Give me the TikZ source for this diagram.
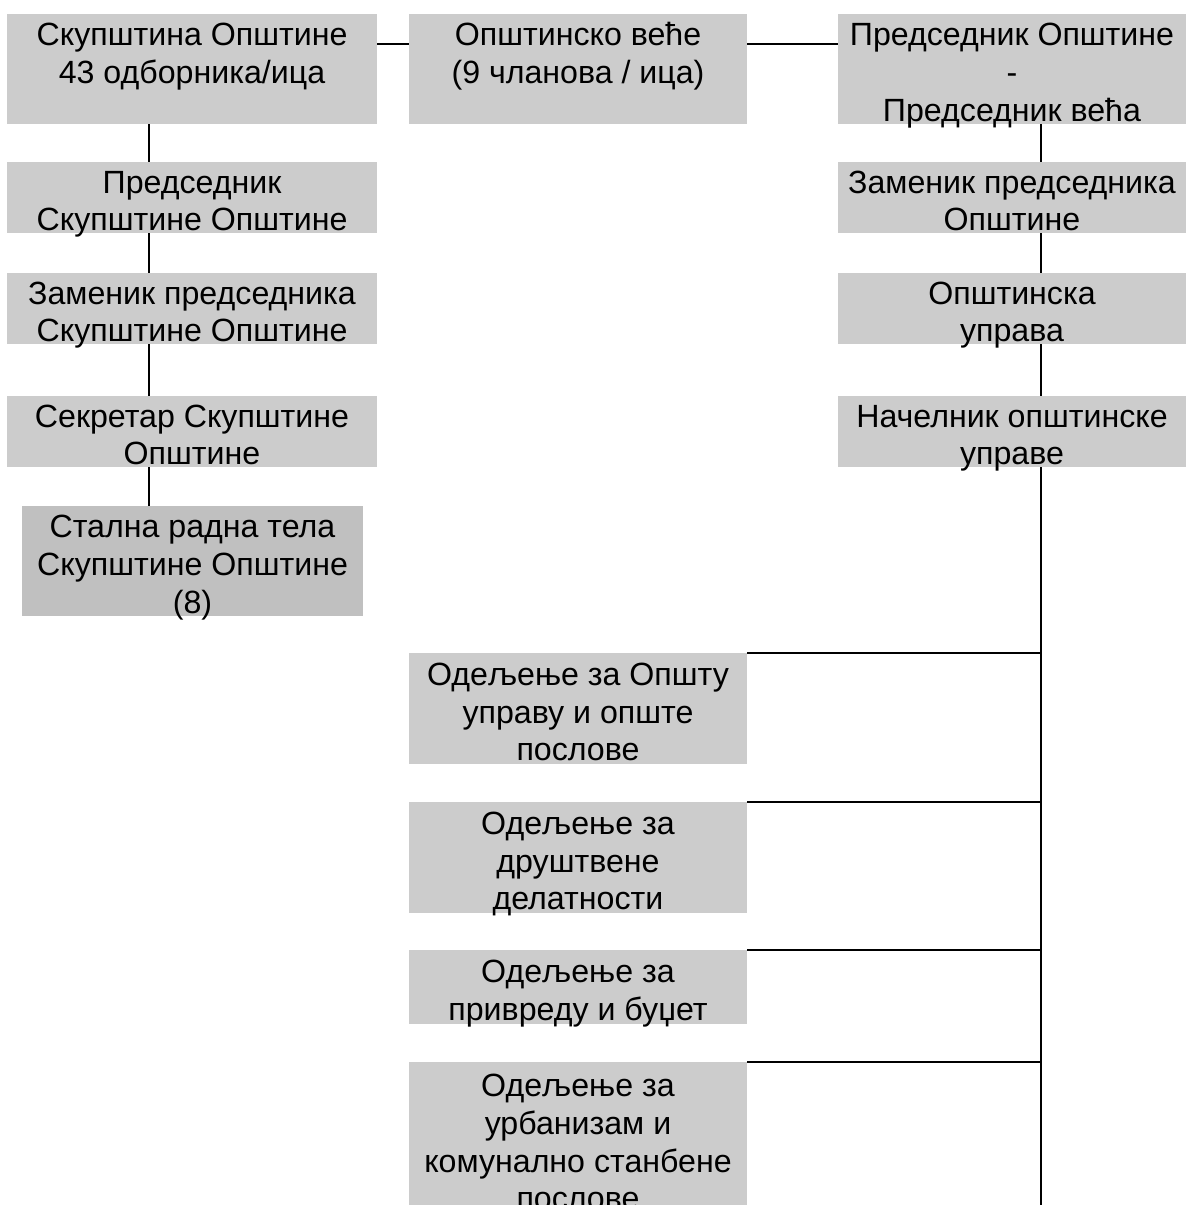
\documentclass[tikz,border=0pt]{standalone}
\usepackage{fontspec}
\setmainfont{Liberation Sans}
\usepackage{xcolor}
\usetikzlibrary{positioning, calc}
\definecolor{boxgray}{HTML}{CCCCCC}
\definecolor{bodygray}{HTML}{C0C0C0}
\newsavebox{\orgtextbox}
\newcommand{\orgtext}[1]{%
  \sbox\orgtextbox{\begin{tabular}[t]{@{}c@{}}#1\end{tabular}}%
  \raisebox{\dimexpr0.5\dp\orgtextbox-11.5pt\relax}[0pt][0pt]{\usebox\orgtextbox}}

\begin{document}
\begin{tikzpicture}[
  x=0.02cm, y=-0.02cm,
  orgbox/.style={fill=boxgray, inner sep=0pt, font=\fontsize{18.3pt}{21.6pt}\selectfont},
  leftbox/.style={orgbox, minimum width=7.4cm},
  midbox/.style={orgbox, minimum width=6.76cm},
  rightbox/.style={orgbox, minimum width=6.96cm},
  bodybox/.style={orgbox, fill=bodygray, minimum width=6.82cm, minimum height=2.2cm},
  link/.style={black, line width=1.14pt},
]
  \useasboundingbox (0,0) rectangle (1186,1205);
  \clip (0,0) rectangle (1186,1205);

  % Spines and the top connector level
  \coordinate (lspine) at (149,0);
  \coordinate (rspine) at (1041,0);
  \coordinate (topline) at (0,44);
  \coordinate (rbottom) at (1041,1205);

  % Top row: assembly, council, president
  \node[leftbox, minimum height=2.2cm] (skup) at (192,69) {\orgtext{Скупштина Општине\\43 одборника/ица\\\mbox{}}};
  \node[midbox, minimum height=2.2cm] (vece) at (578,69) {\orgtext{Општинско веће\\(9 чланова / ица)\\\mbox{}}};
  \node[rightbox, minimum height=2.2cm] (predop) at (1012,69) {\orgtext{Председник Општине\\-\\Председник већа}};

  % Left column: assembly offices
  \node[leftbox, minimum height=1.42cm] (predsk) at (192,197.5) {\orgtext{Председник\\Скупштине Општине}};
  \node[leftbox, minimum height=1.42cm] (zamsk) at (192,308.5) {\orgtext{Заменик председника\\Скупштине Општине}};
  \node[leftbox, minimum height=1.42cm] (sekr) at (192,431.5) {\orgtext{Секретар Скупштине\\Општине}};
  \node[bodybox] (stalna) at (192.5,561) {\orgtext{Стална радна тела\\Скупштине Општине\\(8)}};

  % Right column: executive
  \node[rightbox, minimum height=1.42cm] (zamop) at (1012,197.5) {\orgtext{Заменик председника\\Општине}};
  \node[rightbox, minimum height=1.42cm] (uprava) at (1012,308.5) {\orgtext{Општинска\\управа}};
  \node[rightbox, minimum height=1.42cm] (nacel) at (1012,431.5) {\orgtext{Начелник општинске\\управе}};

  % Departments
  \node[midbox, minimum height=2.22cm] (od1) at (578,708.5) {\orgtext{Одељење за Општу\\управу и опште\\послове}};
  \node[midbox, minimum height=2.22cm] (od2) at (578,857.5) {\orgtext{Одељење за\\друштвене\\делатности}};
  \node[midbox, minimum height=1.48cm] (od3) at (578,987) {\orgtext{Одељење за\\привреду и буџет}};
  \node[midbox, minimum height=3.06cm] (od4) at (578,1138.5) {\orgtext{Одељење за\\урбанизам и\\комунално станбене\\послове}};

  % Top connectors
  \draw[link] (skup.east |- topline) -- (vece.west |- topline);
  \draw[link] (vece.east |- topline) -- (predop.west |- topline);

  % Left chain
  \draw[link] (lspine |- skup.south) -- (lspine |- predsk.north);
  \draw[link] (lspine |- predsk.south) -- (lspine |- zamsk.north);
  \draw[link] (lspine |- zamsk.south) -- (lspine |- sekr.north);
  \draw[link] (lspine |- sekr.south) -- (lspine |- stalna.north);

  % Right chain
  \draw[link] (rspine |- predop.south) -- (rspine |- zamop.north);
  \draw[link] (rspine |- zamop.south) -- (rspine |- uprava.north);
  \draw[link] (rspine |- uprava.south) -- (rspine |- nacel.north);
  \draw[link] (rspine |- nacel.south) -- (rbottom);

  % Department branches
  \foreach \dep in {od1, od2, od3, od4}
    \draw[link] (\dep.north east) -- (rspine |- \dep.north east);
\end{tikzpicture}
\end{document}
